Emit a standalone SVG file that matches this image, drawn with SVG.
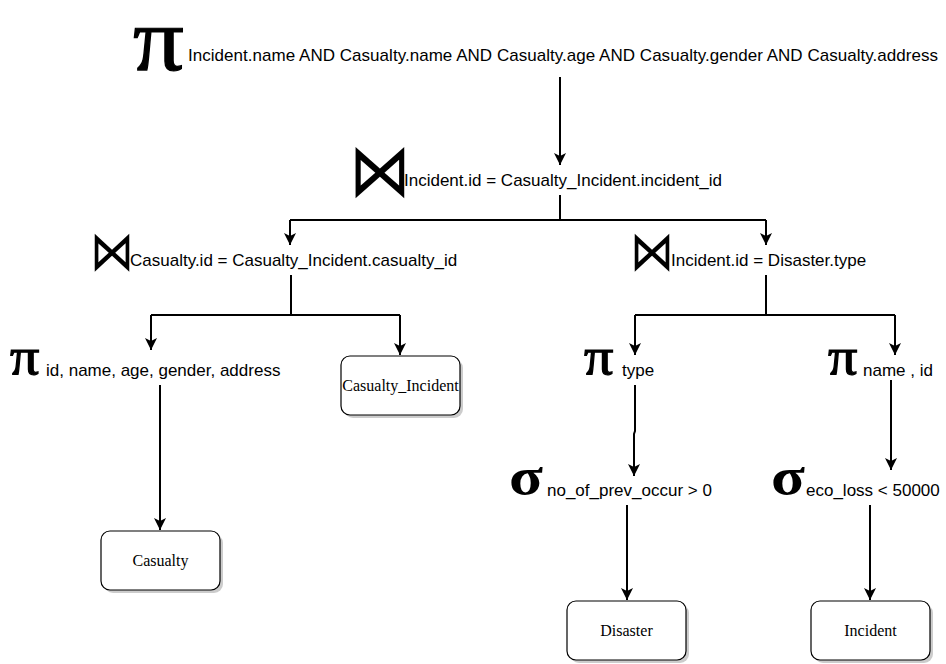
<svg xmlns="http://www.w3.org/2000/svg" width="946" height="664" viewBox="0 0 946 664">
<defs>
<style>
.lbl{font-family:"Liberation Sans",Arial,sans-serif;font-size:17px;fill:#000}
.sym{font-family:"Liberation Serif","Times New Roman",serif;fill:#000;font-weight:bold}
.pi{font-family:"Liberation Serif","Times New Roman",serif;fill:#000;stroke:#000;stroke-width:1.2}
.bow{font-family:"DejaVu Sans",sans-serif;fill:#000}
.box{fill:#fff;stroke:#000;stroke-width:1.2}
.shadow{fill:#aaa;opacity:0.6}
.btxt{font-family:"Liberation Serif","Times New Roman",serif;font-size:16px;fill:#000;text-anchor:middle}
.edge{fill:none;stroke:#000;stroke-width:2;marker-end:url(#arr)}
.line{fill:none;stroke:#000;stroke-width:2}
</style>
<marker id="arr" markerUnits="userSpaceOnUse" markerWidth="14" markerHeight="14" refX="12" refY="6" orient="auto">
<path d="M0,0 L12,6 L0,12 L3,6 Z" fill="#000"/>
</marker>
</defs>
<rect width="946" height="664" fill="#fff"/>
<g id="connectors">
<path class="edge" d="M560,77 V165"/>
<path class="line" d="M560,195 V220 H290 M560,220 H766"/>
<path class="edge" d="M290,220 V245"/>
<path class="edge" d="M766,220 V245"/>
<path class="line" d="M291,275 V315 H151 M291,315 H400"/>
<path class="edge" d="M151,315 V350"/>
<path class="edge" d="M400,315 V355"/>
<path class="line" d="M766,275 V315 H635 M766,315 H895"/>
<path class="edge" d="M635,315 V355"/>
<path class="edge" d="M895,315 V355"/>
<path class="edge" d="M160,385 V530"/>
<path class="edge" d="M635,385 V431 L634,434 V476"/>
<path class="edge" d="M891,380 V470"/>
<path class="edge" d="M627,505 V600"/>
<path class="edge" d="M870,505 V600"/>
</g>
<g id="proj-top">
<text class="pi" transform="translate(133,70) scale(1.12,1)" font-size="90">π</text>
<text class="lbl" x="188" y="61" textLength="750" lengthAdjust="spacing">Incident.name AND Casualty.name AND Casualty.age AND Casualty.gender AND Casualty.address</text>
</g>
<g id="join-1">
<text class="bow" transform="translate(349,196) scale(1,1.2)" font-size="62">⋈</text>
<text class="lbl" x="404" y="186">Incident.id = Casualty_Incident.incident_id</text>
</g>
<g id="join-2">
<text class="bow" transform="translate(90,270) scale(1,1.25)" font-size="44">⋈</text>
<text class="lbl" x="130" y="266">Casualty.id = Casualty_Incident.casualty_id</text>
</g>
<g id="join-3">
<text class="bow" transform="translate(630,270) scale(1,1.25)" font-size="44">⋈</text>
<text class="lbl" x="671" y="266">Incident.id = Disaster.type</text>
</g>
<g id="proj-casualty">
<text class="pi" transform="translate(10,374) scale(1.12,1)" font-size="52">π</text>
<text class="lbl" x="46" y="376">id, name, age, gender, address</text>
</g>
<g id="proj-type">
<text class="pi" transform="translate(584,374) scale(1.12,1)" font-size="52">π</text>
<text class="lbl" x="622" y="376">type</text>
</g>
<g id="proj-name">
<text class="pi" transform="translate(828,374) scale(1.12,1)" font-size="52">π</text>
<text class="lbl" x="863" y="376">name , id</text>
</g>
<g id="sel-disaster">
<text class="sym" transform="translate(509,494) scale(1.2,1)" font-size="52">σ</text>
<text class="lbl" x="547" y="496">no_of_prev_occur &gt; 0</text>
</g>
<g id="sel-incident">
<text class="sym" transform="translate(771,494) scale(1.2,1)" font-size="52">σ</text>
<text class="lbl" x="806" y="496">eco_loss &lt; 50000</text>
</g>
<g id="casualty-incident">
<rect class="shadow" x="344" y="359" width="119" height="59" rx="9"/>
<rect class="box" x="341" y="356" width="119" height="59" rx="9"/>
<text class="btxt" x="400.5" y="391">Casualty_Incident</text>
</g>
<g id="casualty">
<rect class="shadow" x="104" y="534" width="119" height="59" rx="9"/>
<rect class="box" x="101" y="531" width="119" height="59" rx="9"/>
<text class="btxt" x="160.5" y="566">Casualty</text>
</g>
<g id="disaster">
<rect class="shadow" x="570" y="604" width="119" height="59" rx="9"/>
<rect class="box" x="567" y="601" width="119" height="59" rx="9"/>
<text class="btxt" x="626.5" y="636">Disaster</text>
</g>
<g id="incident">
<rect class="shadow" x="814" y="604" width="119" height="59" rx="9"/>
<rect class="box" x="811" y="601" width="119" height="59" rx="9"/>
<text class="btxt" x="870.5" y="636">Incident</text>
</g>
</svg>
